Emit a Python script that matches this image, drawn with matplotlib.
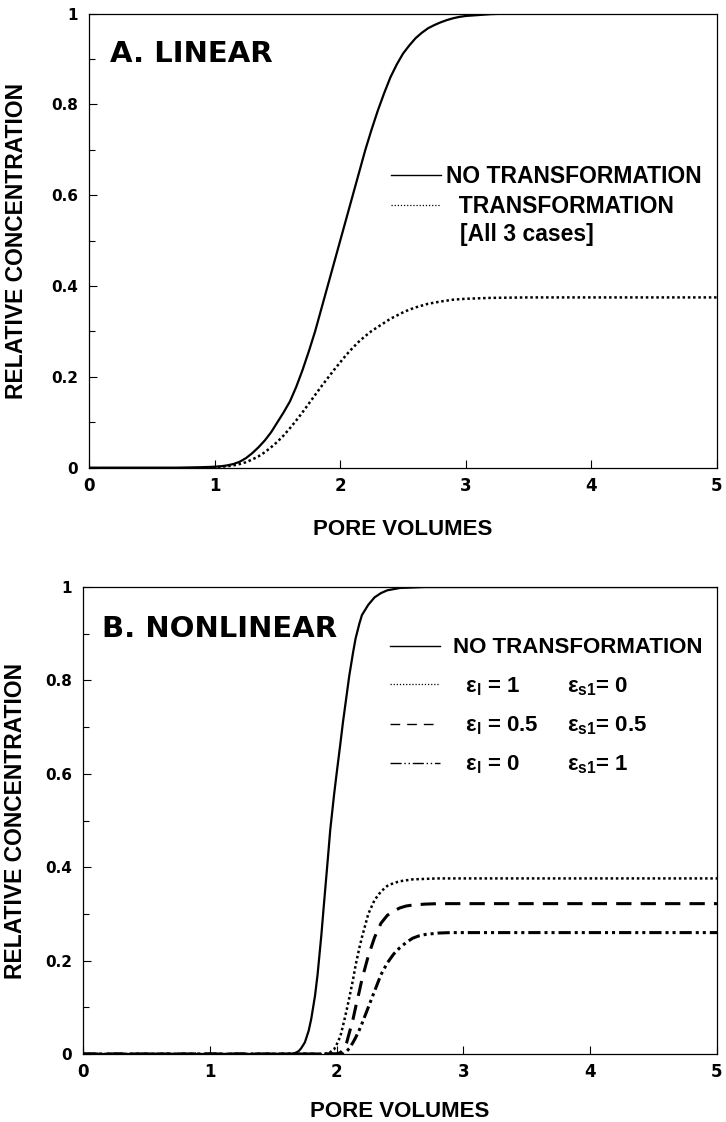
import matplotlib
matplotlib.use("Agg")
import matplotlib.pyplot as plt
from matplotlib.lines import Line2D

# ---- panel A: linear sorption ----
a_pv_none = [0, 0.7, 0.8, 0.9, 1.0, 1.05, 1.1, 1.15, 1.2, 1.25, 1.3, 1.35, 1.4, 1.45, 1.5,
             1.55, 1.6, 1.65, 1.7, 1.75, 1.8, 1.85, 1.9, 1.95, 2.0, 2.05, 2.1, 2.15, 2.2,
             2.25, 2.3, 2.35, 2.4, 2.45, 2.5, 2.55, 2.6, 2.65, 2.7, 2.75, 2.8, 2.85, 2.9,
             2.95, 3.0, 3.1, 3.2, 3.3, 3.5, 5.0]
a_c_none = [0, 0, 0.0005, 0.001, 0.002, 0.003, 0.005, 0.008, 0.013, 0.021, 0.032, 0.045,
            0.06, 0.078, 0.10, 0.122, 0.146, 0.178, 0.215, 0.256, 0.30, 0.35, 0.40, 0.45,
            0.50, 0.55, 0.60, 0.65, 0.70, 0.745, 0.787, 0.825, 0.86, 0.888, 0.912, 0.93,
            0.946, 0.958, 0.968, 0.975, 0.981, 0.986, 0.99, 0.993, 0.995, 0.997, 0.999,
            1.0, 1.0, 1.0]

a_pv_tr = [0.9, 1.0, 1.05, 1.1, 1.15, 1.2, 1.25, 1.3, 1.35, 1.4, 1.45, 1.5, 1.55, 1.6,
           1.65, 1.7, 1.75, 1.8, 1.85, 1.9, 1.95, 2.0, 2.05, 2.1, 2.15, 2.2, 2.25, 2.3,
           2.35, 2.4, 2.45, 2.5, 2.55, 2.6, 2.7, 2.8, 2.9, 3.0, 3.2, 3.5, 5.0]
a_c_tr = [0, 0.001, 0.002, 0.003, 0.005, 0.008, 0.012, 0.018, 0.025, 0.034, 0.045, 0.057,
          0.071, 0.087, 0.104, 0.122, 0.141, 0.16, 0.179, 0.197, 0.215, 0.232, 0.249,
          0.264, 0.278, 0.29, 0.301, 0.31, 0.319, 0.328, 0.335, 0.342, 0.348, 0.353,
          0.361, 0.366, 0.37, 0.372, 0.374, 0.375, 0.375]

# ---- panel B: nonlinear sorption ----
b_pv_none = [0, 1.65, 1.68, 1.7, 1.72, 1.75, 1.78, 1.8, 1.83, 1.85, 1.88, 1.9, 1.93, 1.95,
             1.98, 2.0, 2.03, 2.05, 2.08, 2.1, 2.13, 2.15, 2.18, 2.2, 2.25, 2.3, 2.35,
             2.4, 2.5, 2.6, 2.7, 5.0]
b_c_none = [0, 0, 0.003, 0.006, 0.012, 0.025, 0.05, 0.075, 0.125, 0.17, 0.255, 0.32,
            0.415, 0.48, 0.555, 0.60, 0.665, 0.71, 0.77, 0.81, 0.86, 0.89, 0.922, 0.94,
            0.962, 0.978, 0.987, 0.993, 0.998, 0.999, 1.0, 1.0]

b_pv_e1 = [0, 1.9, 1.95, 1.98, 2.0, 2.03, 2.05, 2.08, 2.1, 2.13, 2.15, 2.18, 2.2, 2.25,
           2.3, 2.35, 2.4, 2.45, 2.5, 2.6, 2.7, 2.8, 5.0]
b_c_e1 = [0, 0, 0.004, 0.01, 0.02, 0.038, 0.06, 0.095, 0.12, 0.16, 0.19, 0.228, 0.25,
          0.30, 0.33, 0.348, 0.36, 0.366, 0.37, 0.374, 0.375, 0.376, 0.376]

b_pv_e05 = [0, 2.0, 2.03, 2.05, 2.08, 2.1, 2.13, 2.15, 2.18, 2.2, 2.25, 2.3, 2.35, 2.4,
            2.45, 2.5, 2.55, 2.6, 2.7, 2.8, 5.0]
b_c_e05 = [0, 0, 0.003, 0.008, 0.025, 0.045, 0.075, 0.10, 0.135, 0.16, 0.21, 0.25, 0.28,
           0.297, 0.306, 0.313, 0.317, 0.319, 0.321, 0.322, 0.322]

b_pv_e0 = [0, 2.05, 2.08, 2.1, 2.13, 2.15, 2.18, 2.2, 2.25, 2.3, 2.35, 2.4, 2.45, 2.5,
           2.55, 2.6, 2.65, 2.7, 2.8, 2.9, 5.0]
b_c_e0 = [0, 0, 0.006, 0.012, 0.025, 0.035, 0.052, 0.065, 0.10, 0.135, 0.17, 0.195,
          0.214, 0.228, 0.239, 0.248, 0.253, 0.256, 0.259, 0.26, 0.26]

x_ticks = [0, 1, 2, 3, 4, 5]
x_ticklabels = ["0", "1", "2", "3", "4", "5"]
y_ticks = [0, 0.2, 0.4, 0.6, 0.8, 1.0]
y_ticklabels = ["0", "0.2", "0.4", "0.6", "0.8", "1"]
y_minor = [0.1, 0.3, 0.5, 0.7, 0.9]

legend_a = ["NO TRANSFORMATION", "  TRANSFORMATION"]
legend_a_note = "[All 3 cases]"
legend_b_left = ["NO TRANSFORMATION", "  ε$_l$ = 1", "  ε$_l$ = 0.5", "  ε$_l$ = 0"]
legend_b_right = [" ", "ε$_{s1}$= 0", "ε$_{s1}$= 0.5", "ε$_{s1}$= 1"]

plt.rcParams["mathtext.default"] = "regular"

DOT = (0, (1, 1.1))
DASH = (0, (5, 3))
DASHDOT = (0, (4, 1.3, 1, 1.3, 1, 1.3))

LAB = dict(fontfamily="Liberation Sans", fontweight="bold")
LEG_A = dict(family="Liberation Sans", weight="bold", size=16.5)
LEG_B = dict(family="Liberation Sans", weight="bold", size=16)


def style_axes(ax):
    ax.set_xlim(0, 5)
    ax.set_ylim(0, 1)
    ax.set_xticks(x_ticks)
    ax.set_xticklabels(x_ticklabels, fontweight="bold")
    ax.set_yticks(y_ticks)
    ax.set_yticklabels(y_ticklabels, fontweight="bold")
    ax.set_yticks(y_minor, minor=True)
    ax.tick_params(which="major", direction="in", length=6, width=0.8, color="black")
    ax.tick_params(which="minor", direction="in", length=4.5, width=0.8)
    ax.tick_params(axis="x", pad=6.5, labelsize=12)
    ax.tick_params(axis="y", pad=8, labelsize=11)
    for sp in ax.spines.values():
        sp.set_linewidth(0.9)
    ax.set_ylabel("RELATIVE CONCENTRATION", fontsize=16.5, **LAB)
    ax.set_xlabel("PORE VOLUMES", fontsize=16, **LAB)
    ax.xaxis.label.set_va("center")
    ax.yaxis.label.set_va("center")


fig = plt.figure(figsize=(7.26, 11.22), dpi=100)

# panel A
ax1 = fig.add_axes([0.1226, 0.5832, 0.865, 0.4046])
ax1.plot(a_pv_none, a_c_none, color="black", lw=1.6)
ax1.plot(a_pv_tr, a_c_tr, color="black", lw=1.8, linestyle=DOT)
style_axes(ax1)
ax1.yaxis.set_label_coords(-0.116, 0.5)
ax1.xaxis.set_label_coords(0.5, -0.137)
ax1.text(0.033, 0.894, "A. LINEAR", transform=ax1.transAxes, fontsize=21,
         fontweight="bold", va="baseline")
h_a = [Line2D([], [], color="black", lw=1.0),
       Line2D([], [], color="black", lw=0.9, linestyle=(0, (1, 1.5)))]
ax1.legend(h_a, legend_a, loc="upper left", bbox_to_anchor=(0.481, 0.667),
           frameon=False, prop=LEG_A, borderaxespad=0, borderpad=0,
           handlelength=2.2, handletextpad=0.18, labelspacing=0.3)
ax1.text(0.591, 0.513, legend_a_note, transform=ax1.transAxes, va="center",
         fontsize=16.5, **LAB)

# panel B
ax2 = fig.add_axes([0.1143, 0.0606, 0.8733, 0.4162])
ax2.plot(b_pv_none, b_c_none, color="black", lw=1.6)
ax2.plot(b_pv_e1, b_c_e1, color="black", lw=1.8, linestyle=DOT)
ax2.plot(b_pv_e05, b_c_e05, color="black", lw=2.2, linestyle=DASH)
ax2.plot(b_pv_e0, b_c_e0, color="black", lw=2.2, linestyle=DASHDOT)
style_axes(ax2)
ax2.yaxis.set_label_coords(-0.106, 0.5)
ax2.xaxis.set_label_coords(0.5, -0.123)
ax2.text(0.030, 0.894, "B. NONLINEAR", transform=ax2.transAxes, fontsize=21,
         fontweight="bold", va="baseline")
h_b = [Line2D([], [], color="black", lw=1.0),
       Line2D([], [], color="black", lw=0.9, linestyle=(0, (1, 1.5))),
       Line2D([], [], color="black", lw=1.0, linestyle=(0, (7, 5))),
       Line2D([], [], color="black", lw=1.0, linestyle=(0, (8, 2, 1, 2, 1, 2)))]
leg1 = ax2.legend(h_b, legend_b_left, loc="upper left", bbox_to_anchor=(0.485, 0.892),
                  frameon=False, prop=LEG_B, borderaxespad=0, borderpad=0,
                  handlelength=2.25, handletextpad=0.55, labelspacing=0.75)
ax2.add_artist(leg1)
h_blank = [Line2D([], [], alpha=0) for _ in legend_b_right]
ax2.legend(h_blank, legend_b_right, loc="upper left", bbox_to_anchor=(0.763, 0.892),
           frameon=False, prop=LEG_B, borderaxespad=0, borderpad=0,
           handlelength=0, handletextpad=0, labelspacing=0.75)

fig.savefig("out.png", dpi=100, facecolor="white")
